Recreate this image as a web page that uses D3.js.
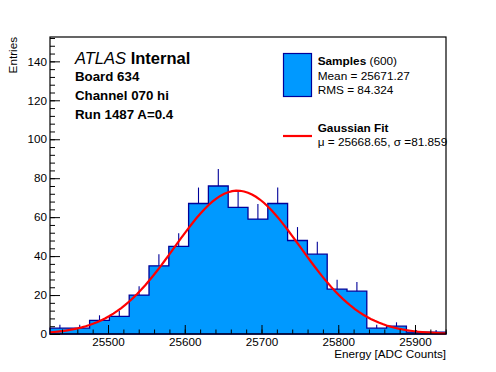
<!DOCTYPE html>
<html>
<head>
<meta charset="utf-8">
<script src="https://cdn.jsdelivr.net/npm/d3@7"></script>
<style>
  body { margin: 0; background: #fff; }
  text { font-family: "Liberation Sans", Arial, Helvetica, sans-serif; }
</style>
</head>
<body>
<div id="hist"></div>
<script>
// HISTOGRAM + GAUSSIAN FIT
// data
const BIN_LOW = 25424.4;
const BIN_HIGH = 25940.4;
const BIN_COUNTS = [3, 3, 7, 9, 20, 35, 45, 67, 76, 65, 59, 67, 48, 41, 23, 22, 3, 4, 1, 1];
const BIN_ERRORS = [1.7, 1.7, 2.6, 3, 4.5, 5.9, 6.7, 8.2, 8.7, 8.1, 7.7, 8.2, 6.9, 6.4, 4.8, 4.7, 1.7, 2, 1, 1];
const X_TICKS = [25500, 25600, 25700, 25800, 25900];
const Y_TICKS = [0, 20, 40, 60, 80, 100, 120, 140];
const Y_MAX = 152.5;

// fit parameters
const FIT_MU = 25668.65;
const FIT_SIGMA = 81.859;
const FIT_AMP = 73.6;

const LABEL_LINES = ["Board 634", "Channel 070 hi", "Run 1487 A=0.4"];

// frame setup
const FRAME_HEIGHT = 372;
const FRAME_WIDTH = 496;
const MARGINS = {left: 50, right: 50, top: 37, bottom: 38};
const VIS_HEIGHT = FRAME_HEIGHT - MARGINS.top - MARGINS.bottom;
const VIS_WIDTH = FRAME_WIDTH - MARGINS.left - MARGINS.right;

const FILL = "#0099ff";
const LINE = "#000099";

const FRAME1 = d3.select("#hist")
                  .append("svg")
                    .attr("height", FRAME_HEIGHT)
                    .attr("width", FRAME_WIDTH);

FRAME1.append("rect")
    .attr("width", FRAME_WIDTH).attr("height", FRAME_HEIGHT)
    .attr("fill", "white");

const X_SCALE = d3.scaleLinear()
                    .domain([BIN_LOW, BIN_HIGH])
                    .range([MARGINS.left, MARGINS.left + VIS_WIDTH]);
const Y_SCALE = d3.scaleLinear()
                    .domain([0, Y_MAX])
                    .range([MARGINS.top + VIS_HEIGHT, MARGINS.top]);

const binWidth = (BIN_HIGH - BIN_LOW) / BIN_COUNTS.length;
const bins = BIN_COUNTS.map((c, i) => ({
    lo: BIN_LOW + i * binWidth,
    hi: BIN_LOW + (i + 1) * binWidth,
    count: c,
    err: BIN_ERRORS[i]
}));

// step outline of the histogram
let pts = [[X_SCALE(BIN_LOW), Y_SCALE(0)]];
bins.forEach((b) => {
    pts.push([X_SCALE(b.lo), Y_SCALE(b.count)]);
    pts.push([X_SCALE(b.hi), Y_SCALE(b.count)]);
});
pts.push([X_SCALE(BIN_HIGH), Y_SCALE(0)]);

FRAME1.append("path")
    .attr("d", d3.line()(pts) + "Z")
    .attr("fill", FILL)
    .attr("stroke", LINE)
    .attr("stroke-width", 1.3);

// error bars (upper half, lower half hides in the fill)
FRAME1.selectAll(".err")
    .data(bins)
    .enter()
    .append("line")
        .attr("class", "err")
        .attr("x1", (d) => X_SCALE((d.lo + d.hi) / 2))
        .attr("x2", (d) => X_SCALE((d.lo + d.hi) / 2))
        .attr("y1", (d) => Y_SCALE(d.count))
        .attr("y2", (d) => Y_SCALE(d.count + d.err))
        .attr("stroke", LINE)
        .attr("stroke-width", 1.1);

// gaussian fit curve
function gaus(x) {
    return FIT_AMP * Math.exp(-0.5 * Math.pow((x - FIT_MU) / FIT_SIGMA, 2));
}
const curveX = d3.range(0, 101).map((i) => BIN_LOW + i * (BIN_HIGH - BIN_LOW) / 100);
FRAME1.append("path")
    .attr("d", d3.line()
        .x((x) => X_SCALE(x))
        .y((x) => Y_SCALE(gaus(x)))(curveX))
    .attr("fill", "none")
    .attr("stroke", "#ff0000")
    .attr("stroke-width", 2.2);

// X axis, ticks point inward
const xMajor = FRAME1.append("g")
    .attr("transform", "translate(0," + (MARGINS.top + VIS_HEIGHT) + ")")
    .call(d3.axisBottom(X_SCALE).tickValues(X_TICKS).tickSize(-9).tickPadding(4).tickFormat(d3.format("d")));
xMajor.selectAll("text").attr("font-size", "11.7px").attr("fill", "black").attr("dy", "0.72em");
FRAME1.append("g")
    .attr("transform", "translate(0," + (MARGINS.top + VIS_HEIGHT) + ")")
    .call(d3.axisBottom(X_SCALE).tickValues(d3.range(25440, BIN_HIGH, 20)).tickSize(-4.5).tickFormat(""));

// Y axis
const yMajor = FRAME1.append("g")
    .attr("transform", "translate(" + MARGINS.left + ",0)")
    .call(d3.axisLeft(Y_SCALE).tickValues(Y_TICKS).tickSize(-10).tickPadding(3));
yMajor.selectAll("text").attr("font-size", "11.7px").attr("fill", "black").attr("x", -3);
FRAME1.append("g")
    .attr("transform", "translate(" + MARGINS.left + ",0)")
    .call(d3.axisLeft(Y_SCALE).tickValues(d3.range(0, Y_MAX, 4)).tickSize(-5).tickFormat(""));

FRAME1.selectAll(".domain").remove();
FRAME1.selectAll(".tick line").attr("stroke", "black").attr("stroke-width", 1);

// frame
FRAME1.append("rect")
    .attr("x", MARGINS.left).attr("y", MARGINS.top)
    .attr("width", VIS_WIDTH).attr("height", VIS_HEIGHT)
    .attr("fill", "none").attr("stroke", "black").attr("stroke-width", 1.2);

// axis titles
FRAME1.append("text")
    .attr("x", MARGINS.left + VIS_WIDTH).attr("y", 358)
    .attr("text-anchor", "end").attr("font-size", "11.7px")
    .text("Energy [ADC Counts]");
FRAME1.append("text")
    .attr("transform", "translate(16.5," + MARGINS.top + ") rotate(-90)")
    .attr("text-anchor", "end").attr("font-size", "11.7px")
    .text("Entries");

// ATLAS label
const atlas = FRAME1.append("text").attr("x", 75).attr("y", 64).attr("font-size", "16.5px");
atlas.append("tspan").attr("font-style", "italic").text("ATLAS");
atlas.append("tspan").attr("font-weight", "bold").text(" Internal");

FRAME1.selectAll(".info")
    .data(LABEL_LINES)
    .enter()
    .append("text")
        .attr("x", 75)
        .attr("y", (d, i) => 81 + i * 19)
        .attr("font-size", "13.3px")
        .attr("font-weight", "bold")
        .text((d) => d);

// legend
FRAME1.append("rect")
    .attr("x", 283.5).attr("y", 53.5).attr("width", 28).attr("height", 43)
    .attr("fill", FILL).attr("stroke", LINE).attr("stroke-width", 1.2);
const leg1 = FRAME1.append("text").attr("x", 317.7).attr("y", 65).attr("font-size", "11.8px");
leg1.append("tspan").attr("font-weight", "bold").text("Samples");
leg1.append("tspan").text(" (600)");
FRAME1.append("text").attr("x", 317.7).attr("y", 80).attr("font-size", "11.8px").text("Mean = 25671.27");
FRAME1.append("text").attr("x", 317.7).attr("y", 93.5).attr("font-size", "11.8px").text("RMS = 84.324");

FRAME1.append("line")
    .attr("x1", 283).attr("x2", 312).attr("y1", 136).attr("y2", 136)
    .attr("stroke", "#ff0000").attr("stroke-width", 2.2);
FRAME1.append("text").attr("x", 317.7).attr("y", 132).attr("font-size", "11.8px")
    .attr("font-weight", "bold").text("Gaussian Fit");
FRAME1.append("text").attr("x", 317.7).attr("y", 145.5).attr("font-size", "11.8px")
    .text("\u03bc = 25668.65, \u03c3 =81.859");
</script>
</body>
</html>
